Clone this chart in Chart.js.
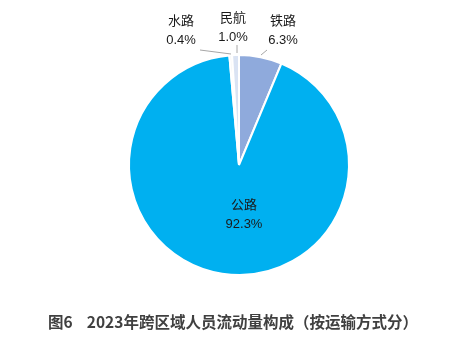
<!DOCTYPE html>
<html>
<head>
<meta charset="utf-8">
<script src="https://cdn.jsdelivr.net/npm/chart.js@4/dist/chart.umd.min.js"></script>
<style>
  html, body { margin: 0; padding: 0; background: #fff; }
  #wrap { width: 475px; height: 363px; position: relative; }
</style>
</head>
<body>
<div id="wrap"><canvas id="pie" width="475" height="363"></canvas></div>
<script>
// data
var categories = ['铁路', '公路', '水路', '民航'];
var shares = [6.3, 92.3, 0.4, 1.0];
var sliceColors = ['#8FAADC', '#00B0F0', '#F2F2F2', '#DAE3F3'];
var chartTitle = '图6    2023年跨区域人员流动量构成（按运输方式分）';

// label position for each slice: [x, y of name] and leader line ends
var labelSpots = [
    { x: 283, y: 21, line: [[267, 50], [261, 55]] },
    { x: 244, y: 205, line: null },
    { x: 181, y: 21, line: [[200, 50], [231, 54]] },
    { x: 233, y: 18, line: [[237, 45], [237, 53]] }
];

var labelPlugin = {
    id: 'sliceLabels',
    afterDatasetsDraw: function (chart) {
        var ctx = chart.ctx;
        ctx.save();
        ctx.font = '13px "Liberation Sans", "Noto Sans CJK SC", sans-serif';
        ctx.fillStyle = '#1a1a1a';
        ctx.textAlign = 'center';
        ctx.textBaseline = 'middle';
        categories.forEach(function (name, i) {
            var s = labelSpots[i];
            ctx.fillText(name, s.x, s.y);
            ctx.fillText(shares[i].toFixed(1) + '%', s.x, s.y + 19);
            if (s.line) {
                ctx.strokeStyle = '#A6A6A6';
                ctx.lineWidth = 1;
                ctx.beginPath();
                ctx.moveTo(s.line[0][0], s.line[0][1]);
                ctx.lineTo(s.line[1][0], s.line[1][1]);
                ctx.stroke();
            }
        });
        // title
        ctx.font = 'bold 15.5px "Noto Sans CJK SC", "Noto Sans", sans-serif';
        ctx.fillStyle = '#404040';
        ctx.fillText(chartTitle, 233, 322);
        ctx.restore();
    }
};

new Chart(document.getElementById('pie'), {
    type: 'pie',
    data: {
        labels: categories,
        datasets: [{
            data: shares,
            backgroundColor: sliceColors,
            borderColor: '#ffffff',
            borderWidth: 2
        }]
    },
    options: {
        responsive: false,
        animation: false,
        layout: { padding: { top: 54, bottom: 87, left: 128, right: 125 } },
        plugins: {
            legend: { display: false },
            tooltip: { enabled: false },
            title: { display: false }
        }
    },
    plugins: [labelPlugin]
});
</script>
</body>
</html>
